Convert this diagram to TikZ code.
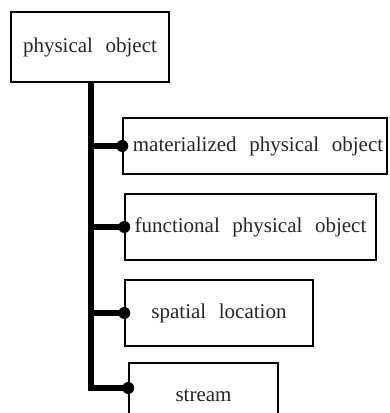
\documentclass[tikz,border=0pt]{standalone}
\usepackage{fontspec}
\setmainfont{Liberation Serif}
\newcommand{\ws}{\hspace{0.6em}}
\begin{document}
\begin{tikzpicture}[x=1pt,y=-1pt,
  box/.style={draw=black, line width=1.4pt, minimum height=66pt, inner sep=0pt,
    font=\fontsize{21}{24}\selectfont, text=black!85},
  conn/.style={line width=5.5pt, line join=miter},
  dot/.style={circle, fill=black, inner sep=0pt, minimum size=12pt}]
\useasboundingbox (0,0) rectangle (389,413);
\clip (0,0) rectangle (389,413);
\node[box, minimum width=158pt, minimum height=70pt] (po) at (90,47) {physical\ws object};
\node[box, minimum width=264pt, minimum height=56pt] (mpo) at (255,146) {\hspace{6pt}materialized\ws physical\ws object};
\node[box, minimum width=251pt] (fpo) at (250.5,227) {functional\ws physical\ws object};
\node[box, minimum width=188pt] (sl) at (219,313) {spatial\ws location};
\node[box, minimum width=149pt] (st) at (203.5,396) {stream};
\coordinate (tt) at (91,82);
\coordinate (j4) at ([yshift=8pt]st.west);
\draw[conn] (po.south -| tt) -- (tt |- j4) -- (j4);
\draw[conn] (tt |- mpo.west) -- (mpo.west);
\draw[conn] (tt |- fpo.west) -- (fpo.west);
\draw[conn] (tt |- sl.west) -- (sl.west);
\node[dot] (d1) at (mpo.west) {};
\node[dot] (d2) at (fpo.west) {};
\node[dot] (d3) at (sl.west) {};
\node[dot] (d4) at (j4) {};
\end{tikzpicture}
\end{document}
